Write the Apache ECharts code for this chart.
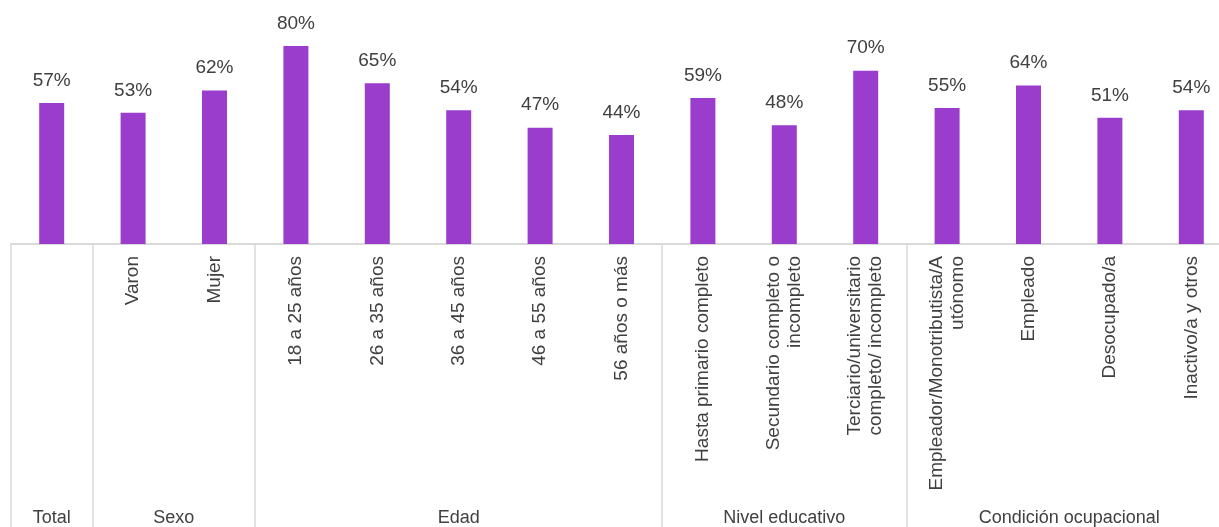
<!DOCTYPE html>
<html>
<head>
<meta charset="utf-8">
<script src="https://cdn.jsdelivr.net/npm/echarts@6/dist/echarts.min.js"></script>
<style>
  html, body { margin: 0; padding: 0; background: #ffffff; }
  #chart { width: 1219px; height: 527px; }
</style>
</head>
<body>
<div id="chart"></div>
<script>
// Category labels (the "Total" bar carries no own label; its group name is drawn below)
const categories = [
  '',
  'Varon', 'Mujer',
  '18 a 25 años', '26 a 35 años', '36 a 45 años', '46 a 55 años', '56 años o más',
  'Hasta primario completo', 'Secundario completo o\nincompleto', 'Terciario/universitario\ncompleto/ incompleto',
  'Empleador/Monotributista/A\nutónomo', 'Empleado', 'Desocupado/a', 'Inactivo/a y otros'
];

// Percentage per category
const values = [57, 53, 62, 80, 65, 54, 47, 44, 59, 48, 70, 55, 64, 51, 54];

// Group headings and how many categories each one spans
const groupNames = ['Total', 'Sexo', 'Edad', 'Nivel educativo', 'Condición ocupacional'];
const groupSizes = [1, 2, 5, 3, 4];

// Index of the first category of every group (separator positions)
const groupStarts = [];
groupSizes.reduce((acc, n) => { groupStarts.push(acc); return acc + n; }, 0);

const FONT = 'Liberation Sans, Arial, Helvetica, sans-serif';
const TEXT = '#404040';
const GRID_LINE = '#d9d9d9';

const chart = echarts.init(document.getElementById('chart'), null, { renderer: 'canvas' });

chart.setOption({
  animation: false,
  backgroundColor: '#ffffff',
  grid: {
    left: 11, width: 1221, top: 46, bottom: 283,
    containLabel: false,
    outerBoundsMode: 'none'
  },
  xAxis: {
    type: 'category',
    data: categories,
    boundaryGap: true,
    axisLine: { show: true, lineStyle: { color: GRID_LINE, width: 2 } },
    axisTick: {
      show: true,
      interval: (index) => groupStarts.indexOf(index) !== -1,
      length: 283,
      lineStyle: { color: GRID_LINE, width: 1.5 }
    },
    axisLabel: {
      interval: 0,
      rotate: 90,
      margin: 12,
      fontSize: 19,
      lineHeight: 21,
      color: TEXT,
      fontFamily: FONT,
      hideOverlap: false
    }
  },
  yAxis: { type: 'value', min: 0, max: 80, show: false },
  series: [{
    type: 'bar',
    data: values,
    barWidth: 25,
    itemStyle: { color: '#9a3dcd' },
    label: {
      show: true,
      position: 'top',
      distance: 13,
      formatter: '{c}%',
      fontSize: 19,
      color: TEXT,
      fontFamily: FONT
    }
  }]
});

// Group headings centred under their span of categories
const groupTexts = groupNames.map((name, g) => {
  const first = groupStarts[g];
  const last = first + groupSizes[g] - 1;
  const x0 = chart.convertToPixel({ xAxisIndex: 0 }, first);
  const x1 = chart.convertToPixel({ xAxisIndex: 0 }, last);
  return {
    type: 'text',
    x: (x0 + x1) / 2,
    y: 518,
    style: {
      text: name,
      fill: TEXT,
      font: '18px ' + FONT,
      align: 'center',
      verticalAlign: 'middle'
    }
  };
});
chart.setOption({ graphic: groupTexts });
</script>
</body>
</html>
